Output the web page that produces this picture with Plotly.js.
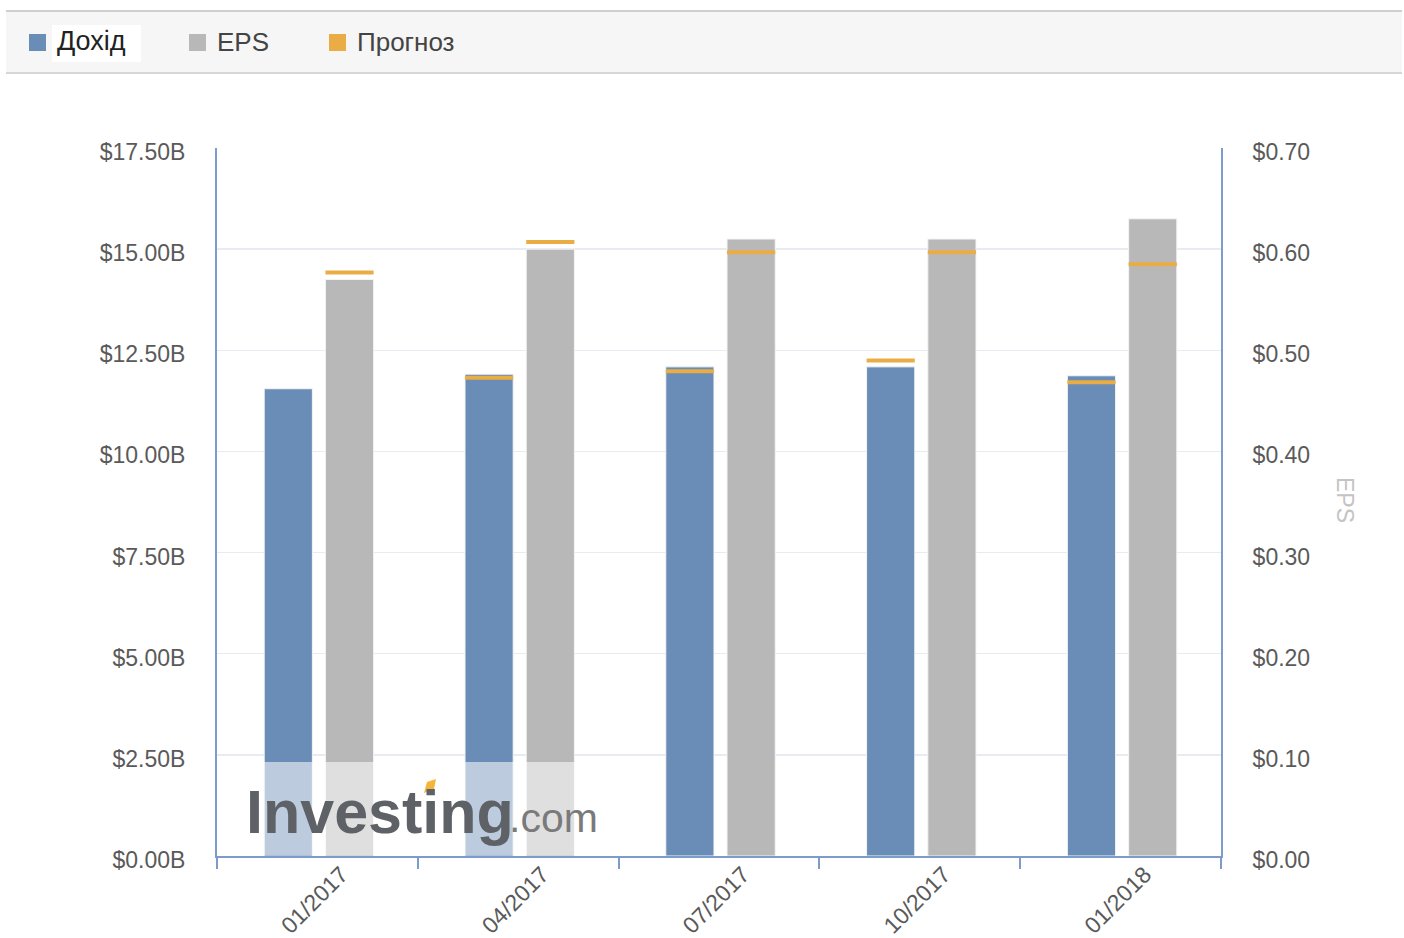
<!DOCTYPE html>
<html>
<head>
<meta charset="utf-8">
<script src="https://cdn.plot.ly/plotly-3.0.1.min.js"></script>
<style>html,body{margin:0;padding:0;background:#fff;}#chart{width:1404px;height:938px;}</style>
</head>
<body>
<div id="chart"></div>
<script>
// ---- data ----
const periods = ["01/2017", "04/2017", "07/2017", "10/2017", "01/2018"];
const revenueB = [11.55, 11.91, 12.09, 12.09, 11.87];          // $B
const revenueForecastB = [null, 11.82, 11.98, 12.25, 11.71];   // $B
const eps = [0.57, 0.60, 0.61, 0.61, 0.63];                    // $
const epsForecast = [0.577, 0.607, 0.597, 0.597, 0.585];       // $
const legendLabels = ["Дохід", "EPS", "Прогноз"];
const rightAxisTitle = "EPS";

// ---- styling ----
const BLUE = "#6a8db7", GREY = "#b8b8b8", ORANGE = "#eaad45", AXIS = "#7d9ccb";
const FONT = "Liberation Sans, Arial, sans-serif";
const REV_T = 0.1, EPS_T = 0.004; // forecast marker thickness in axis units

const barLine = {color: "#f4f4f4", width: 1};
const traces = [
  {type: "bar", x: periods, y: revenueB, yaxis: "y", offset: -0.265, width: 0.24,
   marker: {color: BLUE, line: barLine}, hoverinfo: "y"},
  {type: "bar", x: periods, y: eps, yaxis: "y2", offset: 0.04, width: 0.24,
   marker: {color: GREY, line: barLine}, hoverinfo: "y"},
  {type: "bar", x: periods, y: revenueForecastB.map(v => v == null ? null : REV_T),
   base: revenueForecastB.map(v => v == null ? null : v - REV_T / 2), yaxis: "y",
   offset: -0.265, width: 0.24, marker: {color: ORANGE, line: {width: 0}}, hoverinfo: "skip"},
  {type: "bar", x: periods, y: epsForecast.map(v => v == null ? null : EPS_T),
   base: epsForecast.map(v => v == null ? null : v - EPS_T / 2), yaxis: "y2",
   offset: 0.04, width: 0.24, marker: {color: ORANGE, line: {width: 0}}, hoverinfo: "skip"}
];

// pixel -> paper helpers (plot area 217..1221 x, 148..856 y)
const PL = 217, PR = 1221, PT = 148, PB = 856;
const px = p => (p - PL) / (PR - PL);
const py = p => (PB - p) / (PB - PT);

const shapes = [
  // legend strip
  {type: "rect", xref: "paper", yref: "paper", x0: px(6), x1: px(1402), y0: py(73), y1: py(10),
   fillcolor: "#f6f6f6", line: {width: 0}, layer: "below"},
  {type: "line", xref: "paper", yref: "paper", x0: px(6), x1: px(1402), y0: py(11), y1: py(11),
   line: {color: "#cfcfcf", width: 2}},
  {type: "line", xref: "paper", yref: "paper", x0: px(6), x1: px(1402), y0: py(73), y1: py(73),
   line: {color: "#d6d6d6", width: 2}},
  {type: "rect", xref: "paper", yref: "paper", x0: px(52), x1: px(141), y0: py(62), y1: py(25),
   fillcolor: "#ffffff", line: {width: 0}},
  {type: "rect", xref: "paper", yref: "paper", x0: px(29), x1: px(46), y0: py(51), y1: py(34),
   fillcolor: BLUE, line: {width: 0}},
  {type: "rect", xref: "paper", yref: "paper", x0: px(189), x1: px(206), y0: py(51), y1: py(34),
   fillcolor: GREY, line: {width: 0}},
  {type: "rect", xref: "paper", yref: "paper", x0: px(329), x1: px(346), y0: py(51), y1: py(34),
   fillcolor: ORANGE, line: {width: 0}},
  // watermark veil
  {type: "rect", xref: "paper", yref: "paper", x0: px(240), x1: px(602), y0: py(855), y1: py(762),
   fillcolor: "rgba(255,255,255,0.55)", line: {width: 0}, layer: "above"},
  // watermark accent
  {type: "path", xref: "paper", yref: "paper",
   path: `M ${px(424)} ${py(793)} L ${px(434)} ${py(789)} L ${px(436)} ${py(779)} L ${px(427)} ${py(782)} Z`,
   fillcolor: "#f4b63a", line: {width: 0}, layer: "above"}
];

const annotations = [
  {text: legendLabels[0], xref: "paper", yref: "paper", x: px(55), y: py(41), xanchor: "left", yanchor: "middle",
   showarrow: false, font: {family: FONT, size: 27, color: "#222"}},
  {text: legendLabels[1], xref: "paper", yref: "paper", x: px(215), y: py(42), xanchor: "left", yanchor: "middle",
   showarrow: false, font: {family: FONT, size: 26, color: "#444"}},
  {text: legendLabels[2], xref: "paper", yref: "paper", x: px(355), y: py(42), xanchor: "left", yanchor: "middle",
   showarrow: false, font: {family: FONT, size: 26, color: "#444"}},
  {text: rightAxisTitle, xref: "paper", yref: "paper", x: px(1345), y: py(500), xanchor: "center", yanchor: "middle",
   textangle: 90, showarrow: false, font: {family: FONT, size: 23, color: "#c4c4c4"}},
  {text: "<b>Investing</b>", xref: "paper", yref: "paper", x: px(244), y: py(812), xanchor: "left", yanchor: "middle",
   showarrow: false, font: {family: FONT, size: 61, color: "#5e6266"}},
  {text: ".com", xref: "paper", yref: "paper", x: px(507), y: py(818), xanchor: "left", yanchor: "middle",
   showarrow: false, font: {family: FONT, size: 41, color: "#7a7a7a"}}
];

const tickFont = {family: FONT, size: 23, color: "#5a5a5a"};
const layout = {
  width: 1404, height: 938,
  margin: {l: PL, r: 1404 - PR, t: PT, b: 938 - PB, pad: 0},
  paper_bgcolor: "#ffffff", plot_bgcolor: "#ffffff",
  barmode: "overlay", showlegend: false,
  font: {family: FONT},
  xaxis: {type: "category", tickson: "boundaries", ticks: "outside", ticklen: 11, tickwidth: 2,
          tickcolor: AXIS, showline: true, linecolor: AXIS, linewidth: 2, showgrid: false,
          tickangle: -45, tickfont: tickFont, range: [-0.5, 4.5], fixedrange: true,
          ticklabelshift: 24, ticklabelstandoff: -6},
  yaxis: {range: [0, 17.5], dtick: 2.5, tickprefix: "$", ticksuffix: "B", tickformat: ".2f",
          showline: true, linecolor: AXIS, linewidth: 2, gridcolor: "#e8ebf1", gridwidth: 1.5,
          zeroline: false, ticks: "", tickfont: tickFont, ticklabelstandoff: 25, ticklabelshift: 4},
  yaxis2: {range: [0, 0.7], dtick: 0.1, tickprefix: "$", tickformat: ".2f", overlaying: "y", side: "right",
           showline: true, linecolor: AXIS, linewidth: 2, showgrid: false, zeroline: false, ticks: "",
           tickfont: tickFont, ticklabelstandoff: 25, ticklabelshift: 4},
  shapes: shapes,
  annotations: annotations
};

Plotly.newPlot("chart", traces, layout, {displayModeBar: false, staticPlot: true});
</script>
</body>
</html>
